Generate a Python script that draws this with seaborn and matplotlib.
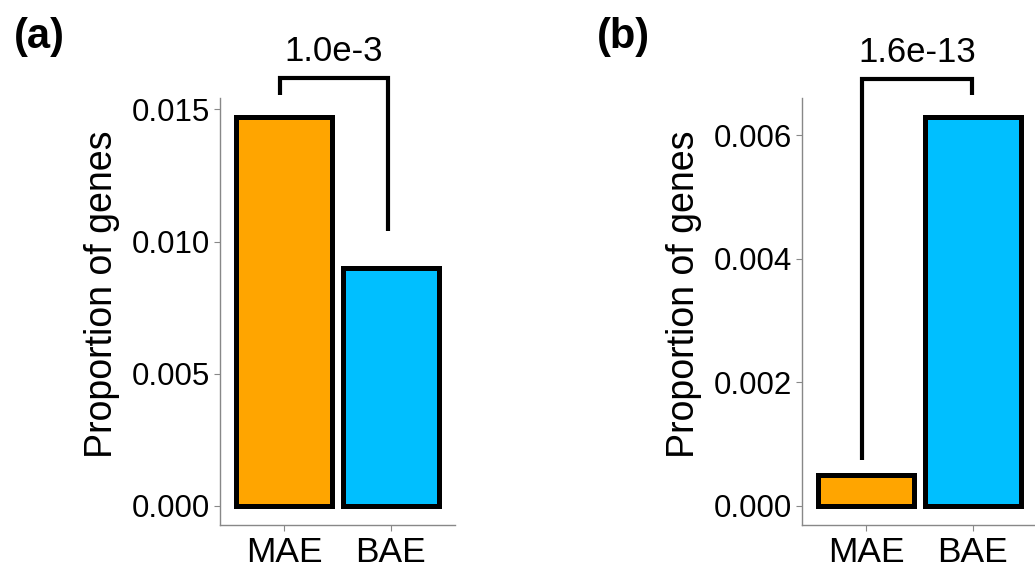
import matplotlib
matplotlib.use("Agg")
import matplotlib.pyplot as plt
import seaborn as sns
import pandas as pd

categories = ["MAE", "BAE"]
values_a = [0.0147, 0.0090]
values_b = [0.0005, 0.00629]
ticks_a = [0.000, 0.005, 0.010, 0.015]
ticks_b = [0.000, 0.002, 0.004, 0.006]
pval_a = "1.0e-3"
pval_b = "1.6e-13"
# bracket: (x_left, x_right, y_top, y_left_tip, y_right_tip)
bracket_a = [-0.04, 0.97, 0.01621, 0.01553, 0.01039]
bracket_b = [-0.04, 0.99, 0.00691, 0.00074, 0.00665]
colors = ["#FFA500", "#00BFFF"]

sns.set_theme(style="white")
plt.rcParams["font.family"] = ["Liberation Sans", "DejaVu Sans"]
plt.rcParams["text.color"] = "black"
plt.rcParams["axes.labelcolor"] = "black"

fig = plt.figure(figsize=(10.35, 5.69), dpi=100)
ax_a = fig.add_axes([0.2126, 0.0773, 0.2271, 0.7505])
ax_b = fig.add_axes([0.7749, 0.0773, 0.2271, 0.7505])


def draw(ax, vals, ticks, fmt, br, pval, letter, letter_x, label_x):
    df = pd.DataFrame({"cat": categories, "val": vals})
    sns.barplot(data=df, x="cat", y="val", hue="cat", palette=colors,
                width=0.9, edgecolor="black", linewidth=3.6, legend=False,
                ax=ax, saturation=1)
    mx = max(vals)
    ax.set_ylim(-0.05 * mx, 1.05 * mx)
    ax.set_xlim(-0.6, 1.6)
    ax.set_yticks(ticks)
    ax.set_yticklabels([fmt.format(t) for t in ticks], fontsize=22.5)
    ax.tick_params(axis="x", labelsize=25.5, length=4, color="#888888",
                   labelcolor="black", width=0.8, bottom=True, pad=4)
    ax.tick_params(axis="y", length=4, color="#888888", width=0.8,
                   labelcolor="black", left=True, pad=3)
    ax.set_xlabel("")
    ax.set_ylabel("Proportion of genes", fontsize=27, color="black",
                  va="center")
    ax.yaxis.set_label_coords(label_x, 0.54)
    for s in ["top", "right"]:
        ax.spines[s].set_visible(False)
    for s in ["left", "bottom"]:
        ax.spines[s].set_color("#888888")
        ax.spines[s].set_linewidth(1.0)
    xl, xr, yt, yl, yr = br
    ax.plot([xl, xl, xr, xr], [yl, yt, yt, yr], color="black", lw=3,
            clip_on=False, solid_capstyle="butt", solid_joinstyle="miter")
    ax.annotate(pval, xy=((xl + xr) / 2, yt), xytext=(0, 7),
                textcoords="offset points", ha="center", va="bottom",
                fontsize=25, color="black", annotation_clip=False)
    fig.text(letter_x, 0.935, letter, fontsize=30, fontweight="bold",
             ha="left", va="center", color="black")


draw(ax_a, values_a, ticks_a, "{:.3f}", bracket_a, pval_a, "(a)", 0.013,
     (102 - 220) / 235)
draw(ax_b, values_b, ticks_b, "{:.3f}", bracket_b, pval_b, "(b)", 0.577,
     (684 - 802) / 235)

fig.savefig("out.png", dpi=100)
